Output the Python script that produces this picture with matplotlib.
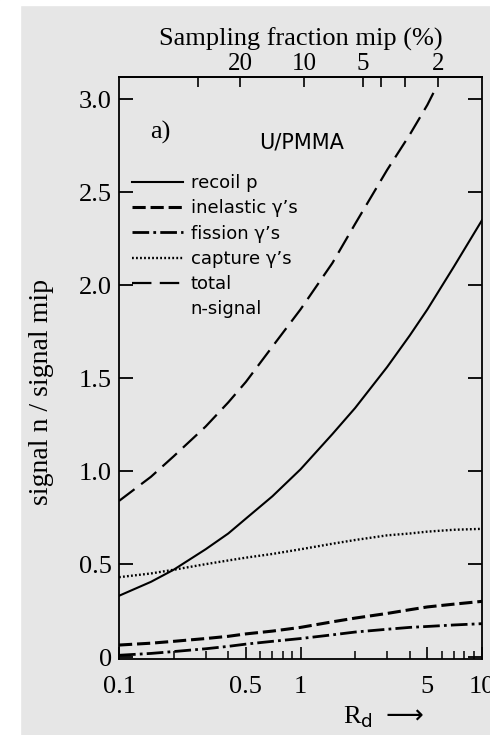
import numpy as np
import matplotlib.pyplot as plt
from matplotlib.ticker import FixedLocator, FixedFormatter, NullFormatter
from matplotlib.lines import Line2D
from matplotlib.patches import Rectangle

plt.rcParams['font.family'] = ['Liberation Serif', 'DejaVu Serif']
plt.rcParams['mathtext.fontset'] = 'custom'
plt.rcParams['mathtext.rm'] = 'DejaVu Sans'
plt.rcParams['lines.scale_dashes'] = False

# values
Rd = [0.1, 0.15, 0.2, 0.3, 0.4, 0.5, 0.7, 1.0, 1.5, 2.0, 3.0, 4.0, 5.0, 7.0, 10.0]
recoil = [0.33, 0.405, 0.47, 0.58, 0.665, 0.745, 0.865, 1.01, 1.20, 1.34, 1.56, 1.73, 1.87, 2.10, 2.35]
inelastic = [0.065, 0.075, 0.085, 0.10, 0.112, 0.125, 0.14, 0.16, 0.19, 0.21, 0.235, 0.255, 0.27, 0.285, 0.30]
fission = [0.01, 0.02, 0.03, 0.045, 0.058, 0.07, 0.085, 0.10, 0.12, 0.135, 0.15, 0.16, 0.165, 0.173, 0.18]
capture = [0.43, 0.45, 0.47, 0.50, 0.52, 0.535, 0.555, 0.58, 0.61, 0.63, 0.655, 0.665, 0.675, 0.685, 0.69]

Rd_total = [0.1, 0.15, 0.2, 0.3, 0.4, 0.5, 0.7, 1.0, 1.5, 2.0, 3.0, 4.0, 5.0, 5.5]
total = [0.84, 0.97, 1.08, 1.24, 1.37, 1.48, 1.67, 1.87, 2.12, 2.33, 2.62, 2.81, 2.97, 3.05]

labels = ['recoil p', 'inelastic γ’s', 'fission γ’s', 'capture γ’s', 'total', 'n-signal']

yticks = [0, 0.5, 1.0, 1.5, 2.0, 2.5, 3.0]
ytick_labels = ['0', '0.5', '1.0', '1.5', '2.0', '2.5', '3.0']
xticks = [0.1, 0.5, 1, 5, 10]
xtick_labels = ['0.1', '0.5', '1', '5', '10']
xminor = [0.2, 0.3, 0.4, 0.6, 0.7, 0.8, 0.9, 2, 3, 4, 6, 7, 8, 9]
sf_ticks = [20, 10, 5, 2]
sf_labels = ['20', '10', '5', '2']
sf_minor = [30, 4, 3]

BG = '#e6e6e6'
SANS = 'DejaVu Sans'


def rd_to_sf(r):
    r = np.asarray(r, dtype=float)
    with np.errstate(divide='ignore', invalid='ignore'):
        return 100.0 / (1.0 + 8.6 * r)


def sf_to_rd(s):
    s = np.asarray(s, dtype=float)
    with np.errstate(divide='ignore', invalid='ignore'):
        return (100.0 / s - 1.0) / 8.6


fig = plt.figure(figsize=(4.9, 7.35), dpi=100, facecolor=BG)
fig.patches.append(Rectangle((0, 0), 20 / 490, 1, transform=fig.transFigure,
                             color='white', zorder=-1))
fig.patches.append(Rectangle((0, 1 - 5 / 735), 1, 5 / 735, transform=fig.transFigure,
                             color='white', zorder=-1))

ax = fig.add_axes([119 / 490, 1 - 659 / 735, 363 / 490, 582 / 735])
ax.set_facecolor(BG)

l1, = ax.plot(Rd, recoil, color='k', lw=1.5)
l2, = ax.plot(Rd, inelastic, color='k', lw=2.2, dashes=(9.5, 3.5))
l3, = ax.plot(Rd, fission, color='k', lw=2.0, dashes=(12, 3, 2, 3))
l4, = ax.plot(Rd, capture, color='k', lw=1.7, dashes=(1.3, 1.6))
l5, = ax.plot(Rd_total, total, color='k', lw=1.6, dashes=(14, 6))
blank = Line2D([], [], linestyle='none')

ax.set_xscale('log')
ax.set_xlim(0.1, 10)
ax.set_ylim(-0.01, 3.12)

ax.xaxis.set_major_locator(FixedLocator(xticks))
ax.xaxis.set_major_formatter(FixedFormatter(xtick_labels))
ax.xaxis.set_minor_locator(FixedLocator(xminor))
ax.xaxis.set_minor_formatter(NullFormatter())
ax.set_yticks(yticks)
ax.set_yticklabels(ytick_labels)

ax.tick_params(axis='x', which='major', direction='in', length=9, width=1.2,
               labelsize=19, pad=12, top=False)
ax.tick_params(axis='x', which='minor', direction='in', length=5.5, width=1.1, top=False)
ax.tick_params(axis='y', direction='in', length=10, width=1.3, right=True,
               labelsize=19, pad=5)
for s in ax.spines.values():
    s.set_linewidth(1.3)

secax = ax.secondary_xaxis('top', functions=(rd_to_sf, sf_to_rd))
secax.xaxis.set_major_locator(FixedLocator(sf_ticks))
secax.xaxis.set_major_formatter(FixedFormatter(sf_labels))
secax.xaxis.set_minor_locator(FixedLocator(sf_minor))
secax.xaxis.set_minor_formatter(NullFormatter())
secax.tick_params(which='both', direction='in', length=7, width=1.2, labelsize=18, pad=1.5)
secax.spines['top'].set_linewidth(1.3)
secax.set_xlabel('Sampling fraction mip (%)', fontsize=19, labelpad=5)

leg = ax.legend([l1, l2, l3, l4, l5, blank], labels, loc='upper left',
                bbox_to_anchor=(0.036, 0.833), frameon=False, borderpad=0,
                borderaxespad=0, handlelength=2.8, handletextpad=0.45,
                labelspacing=0.4, prop={'family': SANS, 'size': 13})

ax.text(0.113, 0.904, 'a)', transform=ax.transAxes, ha='center', va='center', fontsize=19)
ax.text(0.504, 0.888, 'U/PMMA', transform=ax.transAxes, ha='center', va='center',
        fontsize=15, family=SANS)

fig.text(41 / 490, 1 - 392 / 735, 'signal n / signal mip', rotation=90,
         ha='center', va='center', fontsize=20)
fig.text(343 / 490, 1 - 723 / 735, r'R$_\mathrm{d}$ $\longrightarrow$',
         ha='left', va='baseline', fontsize=19)

fig.savefig('out.png', dpi=100, facecolor=BG)
